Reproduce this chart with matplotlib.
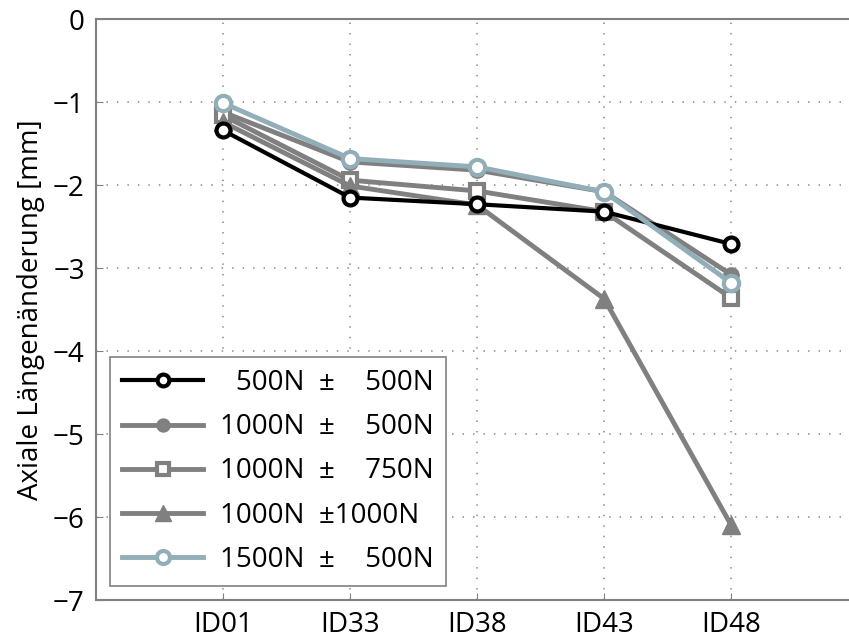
import matplotlib.pyplot as plt

plt.rcParams['font.family'] = ['Open Sans', 'DejaVu Sans']

probes = ['ID01', 'ID33', 'ID38', 'ID43', 'ID48']
x = [1, 2, 3, 4, 5]

f500_500 = [-1.34, -2.15, -2.23, -2.32, -2.71]
f1000_500 = [-1.12, -1.72, -1.82, -2.08, -3.08]
f1000_750 = [-1.16, -1.94, -2.07, -2.32, -3.36]
f1000_1000 = [-1.24, -2.01, -2.24, -3.37, -6.10]
f1500_500 = [-1.01, -1.68, -1.78, -2.08, -3.18]

labels = ['\u2007500N  \u00b1  \u2007500N',
          '1000N  \u00b1  \u2007500N',
          '1000N  \u00b1  \u2007750N',
          '1000N  \u00b11000N',
          '1500N  \u00b1  \u2007500N']

gray = '#808080'
blue = '#92aeb8'

fig = plt.figure(figsize=(8.49, 6.39), dpi=100)
ax = fig.add_axes([0.113, 0.061, 0.898, 0.909])

ax.plot(x, f500_500, color='black', lw=3, marker='o', ms=10,
        mfc='white', mec='black', mew=3, label=labels[0], zorder=3)
ax.plot(x, f1000_500, color=gray, lw=3.5, marker='o', ms=11,
        mfc=gray, mec=gray, label=labels[1], zorder=2)
ax.plot(x, f1000_750, color=gray, lw=3.5, marker='s', ms=10,
        mfc='white', mec=gray, mew=3, label=labels[2], zorder=2)
ax.plot(x, f1000_1000, color=gray, lw=3.5, marker='^', ms=13,
        mfc=gray, mec=gray, label=labels[3], zorder=2)
ax.plot(x, f1500_500, color=blue, lw=3.5, marker='o', ms=11,
        mfc='white', mec=blue, mew=3, label=labels[4], zorder=4)

ax.set_xlim(0, 6)
ax.set_ylim(-7, 0)
ax.set_xticks(x)
ax.set_xticklabels(probes)
ax.set_yticks(range(-7, 1))
ax.set_yticklabels(['\u2212%d' % -v if v < 0 else '0' for v in range(-7, 1)])
ax.tick_params(direction='in', labelsize=20, length=5, color=gray, pad=8)
ax.grid(True, linestyle=(0, (0.8, 5)), color='#999999', lw=1.3)
for s in ax.spines.values():
    s.set_color(gray)
    s.set_linewidth(1.5)

ax.set_ylabel('Axiale Längenänderung [mm]', fontsize=20, labelpad=6)

leg = ax.legend(loc='lower left', fontsize=20, handlelength=2.9,
                borderpad=0.45, labelspacing=0.58, borderaxespad=0.5,
                handletextpad=0.6, markerscale=0.85,
                fancybox=False, framealpha=1)
leg.get_frame().set_edgecolor(gray)
leg.get_frame().set_linewidth(1.2)

fig.savefig('out.png', dpi=100)
